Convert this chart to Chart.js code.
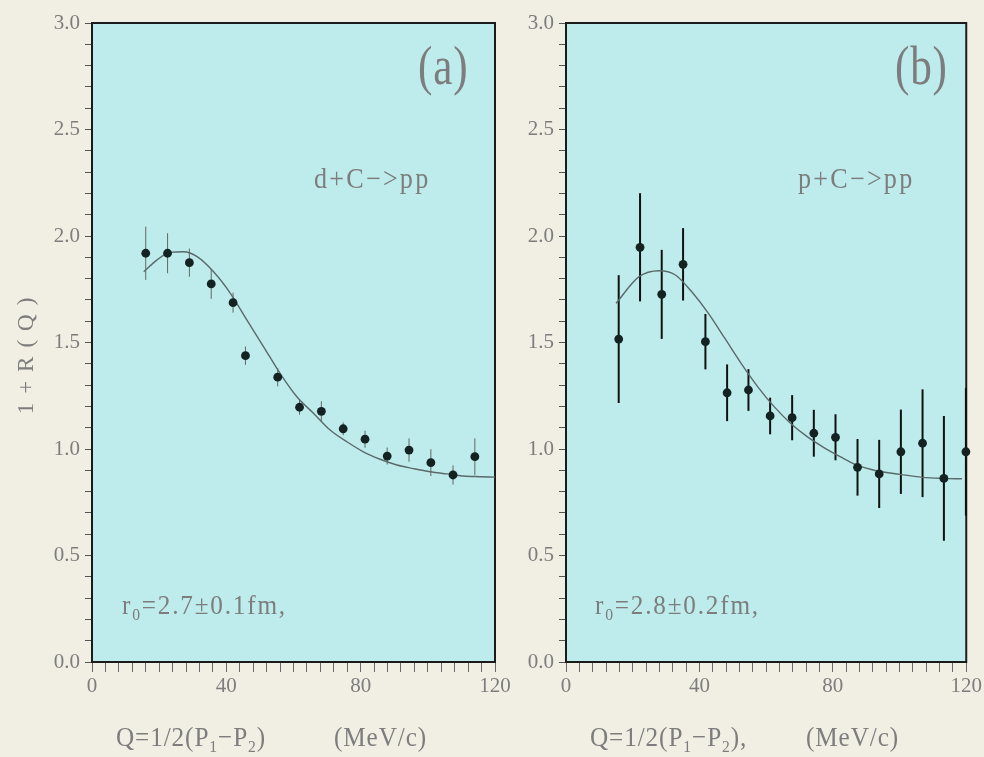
<!DOCTYPE html>
<html>
<head>
<meta charset="utf-8">
<script src="https://cdn.jsdelivr.net/npm/chart.js@4.4.1/dist/chart.umd.min.js"></script>
<style>
  html, body { margin: 0; padding: 0; background: #F1EEE4; width: 984px; height: 757px; overflow: hidden; }
  .wrap { position: absolute; top: 0; }
</style>
</head>
<body>
<div class="wrap" style="left:0px;"><canvas id="cA" width="515" height="757"></canvas></div>
<div class="wrap" style="left:500px;"><canvas id="cB" width="484" height="757"></canvas></div>
<script>
// ---------- DATA ----------
// panel (a) d+C->pp
const Q_A = [16, 22.5, 29, 35.5, 42, 45.7, 55.3, 61.8, 68.3, 74.8, 81.3, 87.9, 94.4, 100.9, 107.5, 114];
const R_A = [1.919, 1.919, 1.875, 1.775, 1.687, 1.438, 1.337, 1.196, 1.177, 1.095, 1.046, 0.967, 0.995, 0.936, 0.878, 0.964];
const E_A = [0.125, 0.094, 0.066, 0.07, 0.047, 0.043, 0.043, 0.035, 0.047, 0.03, 0.04, 0.04, 0.055, 0.063, 0.045, 0.086];
const FIT_A_Q = [15.4, 19.3, 23.3, 27.3, 31.3, 36.2, 41.2, 46.1, 51.1, 56.0, 61.0, 66.0, 70.9, 75.9, 80.8, 85.8, 90.8, 95.7, 100.7, 105.7, 110.6, 115.5, 120];
const FIT_A_R = [1.832, 1.887, 1.923, 1.926, 1.903, 1.832, 1.731, 1.606, 1.480, 1.355, 1.245, 1.167, 1.089, 1.034, 0.987, 0.952, 0.925, 0.908, 0.893, 0.883, 0.873, 0.870, 0.868];

// panel (b) p+C->pp
const Q_B = [15.8, 22.2, 28.7, 35.1, 41.8, 48.3, 54.7, 61.2, 67.8, 74.3, 80.8, 87.4, 93.9, 100.4, 106.9, 113.3, 119.9];
const R_B = [1.516, 1.947, 1.726, 1.867, 1.504, 1.264, 1.277, 1.155, 1.147, 1.074, 1.055, 0.914, 0.883, 0.987, 1.027, 0.862, 0.987];
const E_B = [0.30, 0.254, 0.209, 0.17, 0.13, 0.133, 0.098, 0.086, 0.106, 0.11, 0.108, 0.133, 0.16, 0.198, 0.253, 0.293, 0.30];
const FIT_B_Q = [15.0, 21.9, 27.9, 32.8, 37.7, 42.7, 47.6, 52.5, 57.5, 62.4, 67.3, 72.3, 77.2, 82.2, 87.1, 93.0, 100.0, 106.9, 113.0, 118.7];
const FIT_B_R = [1.684, 1.809, 1.837, 1.817, 1.738, 1.637, 1.520, 1.402, 1.292, 1.199, 1.121, 1.058, 1.008, 0.964, 0.925, 0.898, 0.881, 0.867, 0.862, 0.860];

// axes
const X_MIN = 0, X_MAX = 120, X_STEP = 4, X_LABEL_EVERY = 40;
const Y_MIN = 0, Y_MAX = 3, Y_STEP = 0.1;

// texts
const TXT_A = { tag: '(a)', reaction: 'd+C\u2212>pp', radius: ['r', '0', '=2.7\u00b10.1fm,'], xtitle: ['Q=1/2(P', '1', '\u2212P', '2', ')'], unit: '(MeV/c)' };
const TXT_B = { tag: '(b)', reaction: 'p+C\u2212>pp', radius: ['r', '0', '=2.8\u00b10.2fm,'], xtitle: ['Q=1/2(P', '1', '\u2212P', '2', '),'], unit: '(MeV/c)' };
const Y_TITLE = '1+R(Q)';

// ---------- STYLE ----------
const FONT = "'Liberation Serif', 'DejaVu Serif', serif";
const TXT_COLOR = '#7d7d7d';
const PLOT_BG = '#BEEBEC';

function toXY(xs, ys) { return xs.map((x, i) => ({ x: x, y: ys[i] })); }

// draw text pieces with subscripts: array alternates normal, sub, normal, sub ...
function drawPieces(ctx, pieces, x, y, size, sx, spacing) {
  ctx.save();
  ctx.translate(x, y);
  ctx.scale(sx, 1);
  let cx = 0;
  pieces.forEach((p, i) => {
    const sub = i % 2 === 1;
    ctx.font = (sub ? size * 0.62 : size) + 'px ' + FONT;
    for (const ch of p) {
      ctx.fillText(ch, cx, sub ? size * 0.22 : 0);
      cx += ctx.measureText(ch).width + (spacing || 0);
    }
  });
  ctx.restore();
}

function makePanel(id, opts) {
  const deco = {
    id: 'panelDeco_' + id,
    beforeDraw(chart) {
      const { ctx, chartArea: a } = chart;
      ctx.save();
      ctx.fillStyle = PLOT_BG;
      ctx.fillRect(a.left, a.top, a.right - a.left, a.bottom - a.top);
      ctx.restore();
    },
    beforeDatasetsDraw(chart) {
      const { ctx, chartArea: a, scales } = chart;
      const xs = scales.x, ys = scales.y;
      ctx.save();
      ctx.strokeStyle = '#1b1b1b';
      ctx.lineWidth = 2;
      ctx.strokeRect(a.left, a.top, a.right - a.left, a.bottom - a.top);
      ctx.restore();
      ctx.save();
      ctx.strokeStyle = opts.errColor;
      ctx.lineWidth = opts.errWidth;
      opts.q.forEach((q, i) => {
        const px = xs.getPixelForValue(q);
        ctx.beginPath();
        ctx.moveTo(px, ys.getPixelForValue(opts.r[i] - opts.e[i]));
        ctx.lineTo(px, ys.getPixelForValue(opts.r[i] + opts.e[i]));
        ctx.stroke();
      });
      ctx.restore();
    },
    afterDraw(chart) {
      const { ctx } = chart;
      const t = opts.txt;
      ctx.save();
      ctx.fillStyle = TXT_COLOR;
      ctx.textBaseline = 'alphabetic';
      ctx.textAlign = 'left';
      drawPieces(ctx, [t.tag], opts.tagPos[0], opts.tagPos[1], 54, 0.8, 1);
      drawPieces(ctx, [t.reaction], opts.reacPos[0], opts.reacPos[1], 29, 0.9, 2.5);
      drawPieces(ctx, t.radius, opts.radPos[0], opts.radPos[1], 28, 0.9, 2);
      drawPieces(ctx, t.xtitle, opts.xtPos[0], opts.xtPos[1], 28, 0.9, 1);
      drawPieces(ctx, [t.unit], opts.unitPos[0], opts.unitPos[1], 28, 0.9, 1);
      if (opts.ytitle) {
        ctx.save();
        ctx.translate(opts.ytitle[0], opts.ytitle[1]);
        ctx.rotate(-Math.PI / 2);
        ctx.font = '23px ' + FONT;
        const sp = 9;
        let w = 0;
        for (const ch of Y_TITLE) w += ctx.measureText(ch).width + sp;
        w -= sp;
        drawPieces(ctx, [Y_TITLE], -w / 2, 0, 23, 1, sp);
        ctx.restore();
      }
      ctx.restore();
    }
  };

  return new Chart(document.getElementById(id), {
    type: 'scatter',
    data: {
      datasets: [
        {
          label: 'fit',
          data: toXY(opts.fq, opts.fr),
          showLine: true,
          borderColor: '#5a6a6a',
          borderWidth: 1.4,
          pointRadius: 0,
          cubicInterpolationMode: 'monotone',
          order: 2
        },
        {
          label: 'data',
          data: toXY(opts.q, opts.r),
          pointRadius: 4.4,
          pointBackgroundColor: '#142222',
          pointBorderColor: '#142222',
          pointBorderWidth: 0,
          clip: false,
          order: 1
        }
      ]
    },
    options: {
      responsive: false,
      animation: false,
      events: [],
      layout: { padding: { left: 0, right: opts.padRight, top: 23, bottom: 0 } },
      plugins: { legend: { display: false }, tooltip: { enabled: false } },
      scales: {
        x: {
          type: 'linear', min: X_MIN, max: X_MAX,
          afterFit(s) { s.height = 95; },
          border: { display: false },
          grid: { drawOnChartArea: false, drawTicks: true, tickLength: 10, color: '#6a6a6a', lineWidth: 1 },
          ticks: {
            stepSize: X_STEP, autoSkip: false, maxRotation: 0, padding: 2,
            color: TXT_COLOR, font: { family: FONT, size: 21 },
            callback: (v) => (Math.round(v) % X_LABEL_EVERY === 0 ? String(Math.round(v)) : '')
          }
        },
        y: {
          type: 'linear', min: Y_MIN, max: Y_MAX,
          afterFit(s) { s.width = opts.yWidth; },
          border: { display: false },
          grid: { drawOnChartArea: false, drawTicks: true, tickLength: 7, color: '#555', lineWidth: 1 },
          ticks: {
            stepSize: Y_STEP, autoSkip: false, padding: 5,
            color: TXT_COLOR, font: { family: FONT, size: 21 },
            callback: (v) => (Math.round(v * 10) % 5 === 0 ? v.toFixed(1) : '')
          }
        }
      }
    },
    plugins: [deco]
  });
}

makePanel('cA', {
  q: Q_A, r: R_A, e: E_A, fq: FIT_A_Q, fr: FIT_A_R,
  errColor: 'rgba(70,60,50,0.75)', errWidth: 1,
  yWidth: 92, padRight: 20, txt: TXT_A,
  tagPos: [418, 84], reacPos: [314, 188], radPos: [122, 614],
  xtPos: [116, 746], unitPos: [334, 746], ytitle: [33, 356]
});
makePanel('cB', {
  q: Q_B, r: R_B, e: E_B, fq: FIT_B_Q, fr: FIT_B_R,
  errColor: '#111', errWidth: 2,
  yWidth: 66, padRight: 13, txt: TXT_B,
  tagPos: [395, 84], reacPos: [298, 188], radPos: [95, 614],
  xtPos: [90, 746], unitPos: [306, 746], ytitle: null
});
</script>
</body>
</html>
